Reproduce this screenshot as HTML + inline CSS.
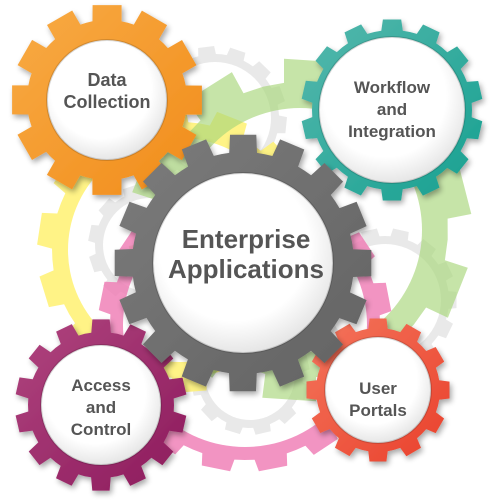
<!DOCTYPE html>
<html><head><meta charset="utf-8"><style>
html,body{margin:0;padding:0;background:#fff;width:500px;height:500px;overflow:hidden}
svg text{font-family:"Liberation Sans",sans-serif;font-weight:bold;fill:#555;text-anchor:middle}
</style></head><body>
<svg id="s" width="500" height="500" viewBox="0 0 500 500" xmlns="http://www.w3.org/2000/svg">
<defs>
<filter id="sh" x="-20%" y="-20%" width="140%" height="140%"><feGaussianBlur in="SourceAlpha" stdDeviation="3"/><feOffset dx="2" dy="3"/><feComponentTransfer><feFuncA type="linear" slope="0.35"/></feComponentTransfer><feMerge><feMergeNode/><feMergeNode in="SourceGraphic"/></feMerge></filter>
<radialGradient id="wg" cx="0.45" cy="0.4" r="0.6"><stop offset="0.7" stop-color="#fff"/><stop offset="1" stop-color="#e6e6e6"/></radialGradient>
</defs>
<g id="bg"></g>
<g id="fg"></g>
<text x="107" y="86" font-size="18">Data</text>
<text x="107" y="108" font-size="18">Collection</text>
<text x="392" y="93" font-size="17">Workflow</text>
<text x="392" y="115" font-size="17">and</text>
<text x="392" y="137" font-size="17">Integration</text>
<text x="246" y="248" font-size="26">Enterprise</text>
<text x="246" y="278" font-size="26">Applications</text>
<text x="101" y="391" font-size="17">Access</text>
<text x="101" y="413" font-size="17">and</text>
<text x="101" y="435" font-size="17">Control</text>
<text x="378" y="394" font-size="17">User</text>
<text x="378" y="416" font-size="17">Portals</text>
</svg>
<script>
var TW=0.5,RW=0.62;
function gear(cx,cy,R,r,n,rot,f){var p=[];for(var i=0;i<n;i++){var a=rot+i*2*Math.PI/n,d1=Math.PI/n*RW,d2=Math.PI/n*TW;
[[r,a-d1],[R,a-d2],[R,a+d2],[r,a+d1],[r,a+Math.PI/n]].forEach(function(q){p.push((cx+q[0]*Math.cos(q[1])).toFixed(1)+","+(cy+q[0]*Math.sin(q[1])).toFixed(1));});}
return '<polygon points="'+p.join(" ")+'" '+f+'/>';}
function ring(cx,cy,R,r,n,rot,ir,col,op){return '<g opacity="'+op+'"><mask id="m'+cx+cy+'"><rect width="500" height="500" fill="#fff"/><circle cx="'+cx+'" cy="'+cy+'" r="'+ir+'" fill="#000"/></mask><g mask="url(#m'+cx+cy+')">'+gear(cx,cy,R,r,n,rot,'fill="'+col+'"')+'</g></g>';}
var bg="";
bg+=ring(215,118,72,64,14,0.1,56,"#d8d8d8",0.55);
bg+=ring(150,245,62,55,12,0.2,47,"#d8d8d8",0.55);
bg+=ring(385,300,72,64,14,0,56,"#d8d8d8",0.55);
bg+=ring(250,375,60,53,12,0.3,45,"#d8d8d8",0.55);
bg+=ring(180,250,143,128,14,0.15,112,"#fff27a",0.9);
TW=0.5;RW=0.55;
bg+=ring(300,230,172,148,10,-0.25,122,"#a8d77a",0.65);
TW=0.5;RW=0.62;
bg+=ring(245,325,147,135,16,0.2,122,"#f07ab4",0.8);
document.getElementById("bg").innerHTML=bg;
function main(cx,cy,R,r,n,rot,ir,c1,c2,id){return '<linearGradient id="'+id+'" x1="0" y1="0" x2="1" y2="1"><stop offset="0" stop-color="'+c1+'"/><stop offset="1" stop-color="'+c2+'"/></linearGradient><g filter="url(#sh)">'+gear(cx,cy,R,r,n,rot,'fill="url(#'+id+')"')+'<circle cx="'+cx+'" cy="'+cy+'" r="'+ir+'" fill="url(#wg)" stroke="rgba(0,0,0,0.15)" stroke-width="2"/></g>';}
var fg="";
TW=0.58;RW=0.7;
fg+=main(107,100,96,80,12,-1.57,60,"#f8ab45","#f18c1a","g1");
TW=0.45;RW=0.6;
fg+=main(392,110,91,80,14,-1.57,73,"#55b8ad","#16a090","g2");
fg+=main(101,405,86,73,14,-1.57,60,"#b0457f","#8c1a5c","g4");
fg+=main(378,390,72,62,12,-1.57,53,"#f4765d","#e9402b","g5");
TW=0.52;RW=0.64;
fg+=main(243,263,129,111,16,-1.57,90,"#7c7c7c","#626262","g3");
document.getElementById("fg").innerHTML=fg;
</script>
</body></html>
